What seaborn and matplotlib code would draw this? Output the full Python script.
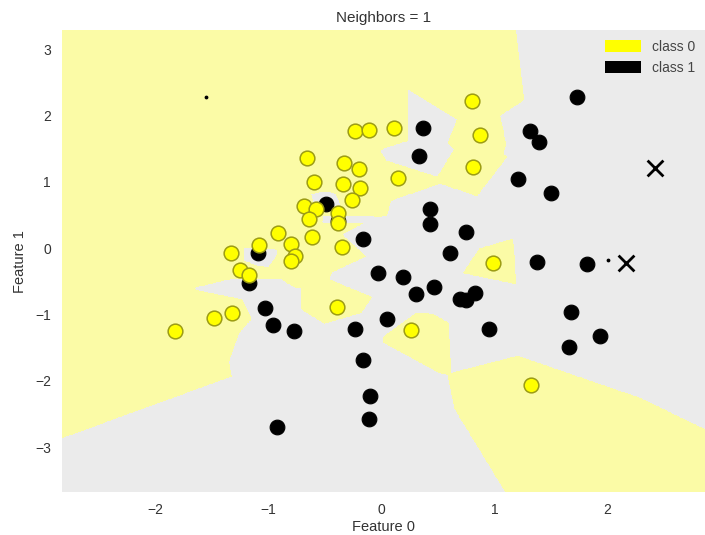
import numpy as np
import pandas as pd
import matplotlib
matplotlib.use("Agg")
import matplotlib.pyplot as plt
from matplotlib.patches import Patch
import seaborn as sns

# class 0 (yellow) points
x0 = [0.80, -0.23, -0.11, 0.11, 0.87, -0.66, -0.33, -0.20, 0.81, -0.59,
      -0.34, 0.15, -0.19, -0.26, -0.68, -0.58, -0.64, -0.38, -0.38, -0.91,
      -0.61, -0.35, -0.80, -0.76, -0.80, -1.08, -1.33, -1.25, -1.17, -1.32,
      -1.48, -1.82, -0.39, 0.26, 0.99, 1.32]
y0 = [2.22, 1.76, 1.78, 1.81, 1.70, 1.36, 1.28, 1.19, 1.22, 1.00,
      0.97, 1.06, 0.90, 0.72, 0.63, 0.59, 0.44, 0.53, 0.38, 0.23,
      0.17, 0.02, 0.06, -0.12, -0.20, 0.05, -0.08, -0.33, -0.41, -0.98,
      -1.06, -1.25, -0.89, -1.24, -0.23, -2.07]

# class 1 (black) points
x1 = [1.73, 0.37, 0.33, 1.31, 1.39, 1.21, 1.50, -0.49, -0.38, -0.16,
      0.43, 0.43, 0.75, 0.61, 1.38, 1.82, -1.09, -1.17, -0.03, 0.19,
      0.31, 0.47, 0.70, 0.75, 0.83, -1.03, -0.96, -0.77, -0.23, 0.05,
      0.95, 1.68, 1.93, 1.66, -0.16, -0.10, -0.11, -0.92]
y1 = [2.28, 1.81, 1.39, 1.76, 1.60, 1.04, 0.83, 0.66, 0.41, 0.14,
      0.59, 0.36, 0.24, -0.08, -0.21, -0.24, -0.08, -0.53, -0.38, -0.44,
      -0.69, -0.59, -0.77, -0.78, -0.68, -0.90, -1.16, -1.25, -1.22, -1.07,
      -1.22, -0.97, -1.33, -1.49, -1.69, -2.23, -2.58, -2.70]

# hand-drawn marks on the screenshot
cross_x = [2.42, 2.16]
cross_y = [1.21, -0.23]
dot_x = [-1.55, 2.00]
dot_y = [2.28, -0.18]

n_neighbors = 1
xlim = (-2.82, 2.86)
ylim = (-3.68, 3.29)

df = pd.DataFrame({
    "f0": x0 + x1,
    "f1": y0 + y1,
    "label": [0] * len(x0) + [1] * len(x1),
})

sns.set_style("white")
plt.rcParams["font.family"] = ["Liberation Sans", "DejaVu Sans"]

fig = plt.figure(figsize=(7.05, 5.35), dpi=100)
ax = fig.add_axes([0.088, 0.080, 0.912, 0.864])

# 1-nearest-neighbour decision regions
gx = np.linspace(xlim[0], xlim[1], 700)
gy = np.linspace(ylim[0], ylim[1], 700)
xx, yy = np.meshgrid(gx, gy)
d0 = np.full(xx.shape, np.inf)
d1 = np.full(xx.shape, np.inf)
for px, py, lab in zip(df["f0"], df["f1"], df["label"]):
    d = (xx - px) ** 2 + (yy - py) ** 2
    if lab == 0:
        d0 = np.minimum(d0, d)
    else:
        d1 = np.minimum(d1, d)
zz = (d1 < d0).astype(float)
ax.contourf(xx, yy, zz, levels=[-0.5, 0.5, 1.5], colors=["#fbfba6", "#ebebeb"])

sns.scatterplot(data=df[df["label"] == 1], x="f0", y="f1", ax=ax, color="black",
                edgecolor="black", s=112, linewidth=0.8, legend=False, zorder=3)
sns.scatterplot(data=df[df["label"] == 0], x="f0", y="f1", ax=ax, color="#ffff00",
                edgecolor="#9c9c14", s=112, linewidth=1.1, legend=False, zorder=4)

ax.scatter(cross_x, cross_y, marker="x", s=130, color="black", linewidth=2, zorder=5)
ax.scatter(dot_x, dot_y, marker=".", s=12, color="black", zorder=5)

ax.set_xlim(xlim)
ax.set_ylim(ylim)
ax.set_xticks([-2, -1, 0, 1, 2])
ax.set_yticks([-3, -2, -1, 0, 1, 2, 3])
ax.tick_params(length=0, labelsize=10, colors="#333333", pad=8)
sns.despine(ax=ax, left=True, bottom=True)
ax.set_xlabel("Feature 0", fontsize=10.5, color="#333333", labelpad=2)
ax.set_ylabel("Feature 1", fontsize=10.5, color="#333333", labelpad=6)
ax.set_title("Neighbors = %d" % n_neighbors, fontsize=11, color="#333333", pad=6)

handles = [Patch(facecolor="#ffff00", edgecolor="none"),
           Patch(facecolor="black", edgecolor="none")]
leg = ax.legend(handles, ["class 0", "class 1"], loc="upper right", frameon=False,
                fontsize=10, handlelength=2.6, handleheight=0.9, borderaxespad=0.3)
for t in leg.get_texts():
    t.set_color("#444444")

fig.savefig("out.png", dpi=100)
